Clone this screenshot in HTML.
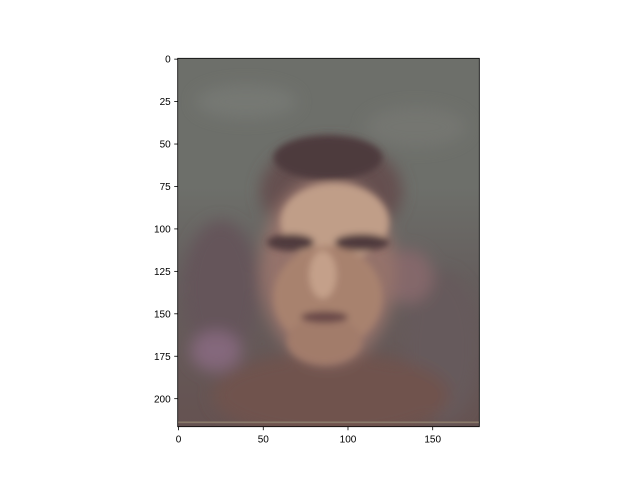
<!DOCTYPE html>
<html><head><meta charset="utf-8"><style>
body{margin:0;background:#fff;}
svg text{font-family:"Liberation Sans","DejaVu Sans",sans-serif;font-size:10px;fill:#000;}
</style></head><body>
<svg width="640" height="480" viewBox="0 0 640 480">
<defs>
<filter id="b6" x="-50%" y="-50%" width="200%" height="200%"><feGaussianBlur stdDeviation="4.5"/></filter>
<filter id="b3" x="-50%" y="-50%" width="200%" height="200%"><feGaussianBlur stdDeviation="2"/></filter>
<linearGradient id="bg" x1="0" y1="0" x2="0" y2="1">
<stop offset="0" stop-color="#6d6f6a"/><stop offset="0.35" stop-color="#6d6f6a"/>
<stop offset="0.6" stop-color="#655e5d"/><stop offset="1" stop-color="#655251"/></linearGradient>
<clipPath id="clip"><rect x="-0.5" y="-0.5" width="178" height="217"/></clipPath>
</defs>
<g id="img" transform="translate(178.55,59.15) scale(1.697)" clip-path="url(#clip)">
<rect x="-0.5" y="-0.5" width="178" height="217" fill="url(#bg)"/>
<g filter="url(#b6)">
<ellipse cx="40" cy="25" rx="30" ry="10" fill="#767873"/>
<ellipse cx="140" cy="40" rx="30" ry="12" fill="#747671"/>
<ellipse cx="25" cy="135" rx="22" ry="40" fill="#65545a"/>
<ellipse cx="155" cy="170" rx="22" ry="45" fill="#665a5c"/>
<ellipse cx="90" cy="198" rx="70" ry="25" fill="#70524e"/>
<ellipse cx="22" cy="172" rx="15" ry="12" fill="#84687c"/>
<ellipse cx="135" cy="128" rx="15" ry="16" fill="#84686a"/>
<ellipse cx="90" cy="78" rx="42" ry="30" fill="#65504f"/>
<ellipse cx="88" cy="125" rx="40" ry="55" fill="#94726a"/>
</g>
<g filter="url(#b3)">
<ellipse cx="88" cy="58" rx="32" ry="13" fill="#4e3b3c"/>
<ellipse cx="92" cy="96" rx="32" ry="23" fill="#c09e88"/>
<ellipse cx="88" cy="140" rx="32" ry="30" fill="#a8826e"/>
<ellipse cx="86" cy="166" rx="22" ry="14" fill="#a27c6a"/>
<ellipse cx="85" cy="127" rx="8" ry="14" fill="#c4a08a"/>
<ellipse cx="66" cy="108" rx="14" ry="5" fill="#503a3c"/>
<ellipse cx="108" cy="108" rx="16" ry="5" fill="#503a3c"/>
<ellipse cx="86" cy="152" rx="14" ry="3.5" fill="#6a4a48"/>
</g>
<rect x="-0.5" y="213.5" width="178" height="1" fill="#8a7a6a"/>
</g>
<rect x="177.7" y="58.3" width="301.6" height="368.4" fill="none" stroke="#000" stroke-width="0.8"/>
<g id="xt"></g>
<g id="yt"></g>
</svg>
<script>
const xTicks=[0,50,100,150];
const yTicks=[0,25,50,75,100,125,150,175,200];
const imgW=178, imgH=217;
const ax={x0:177.7,y0:58.3,w:301.6,h:368.4};
const sx=v=>ax.x0+(v+0.5)*ax.w/imgW;
const sy=v=>ax.y0+(v+0.5)*ax.h/imgH;
const NS="http://www.w3.org/2000/svg";
const xg=document.getElementById('xt'), yg=document.getElementById('yt');
const bot=ax.y0+ax.h;
xTicks.forEach(t=>{
 const l=document.createElementNS(NS,'line');
 
 
 l.setAttribute('x1',sx(t));l.setAttribute('x2',sx(t));l.setAttribute('y1',bot);l.setAttribute('y2',bot+3.5);
 l.setAttribute('stroke','#000');l.setAttribute('stroke-width','0.8');xg.appendChild(l);
 const tx=document.createElementNS(NS,'text');
 
 
 tx.setAttribute('x',sx(t));tx.setAttribute('y',bot+16);tx.setAttribute('text-anchor','middle');
 tx.textContent=t;xg.appendChild(tx);
});
yTicks.forEach(t=>{
 const l=document.createElementNS(NS,'line');
 
 
 l.setAttribute('x1',ax.x0-3.5);l.setAttribute('x2',ax.x0);l.setAttribute('y1',sy(t));l.setAttribute('y2',sy(t));
 l.setAttribute('stroke','#000');l.setAttribute('stroke-width','0.8');yg.appendChild(l);
 const tx=document.createElementNS(NS,'text');
 
 
 tx.setAttribute('x',ax.x0-7);tx.setAttribute('y',sy(t)+3.6);tx.setAttribute('text-anchor','end');
 tx.textContent=t;yg.appendChild(tx);
});
</script>
</body></html>
